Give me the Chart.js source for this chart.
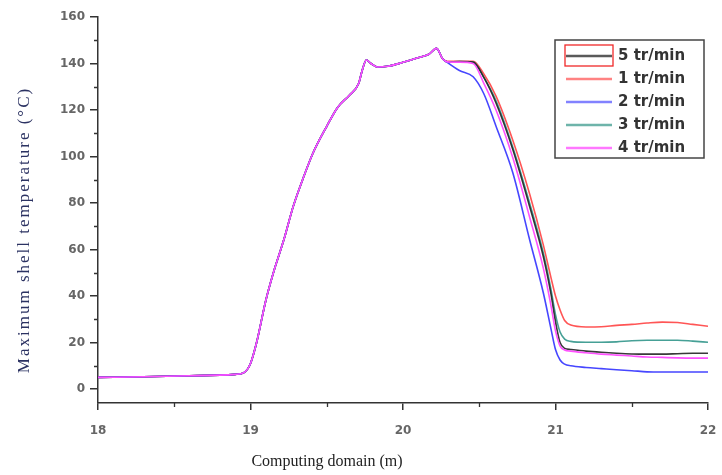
<!DOCTYPE html>
<html>
<head>
<meta charset="utf-8">
<script src="https://cdn.jsdelivr.net/npm/chart.js@4/dist/chart.umd.min.js"></script>
<style>
  html, body { margin: 0; padding: 0; background: #fff; }
</style>
</head>
<body>
<canvas id="shellChart" width="722" height="475"></canvas>
<script>
// shared heating part (all speeds overlap here)
const xRise = [18, 18.3, 18.6, 18.9, 18.96, 19.0, 19.04, 19.1, 19.15, 19.22, 19.28, 19.35, 19.41, 19.5, 19.57, 19.65, 19.71, 19.73, 19.76, 19.79, 19.83, 19.9, 20.0, 20.1, 20.17, 20.22, 20.26];
const yRise = [5.0, 5.3, 5.7, 6.3, 7.2, 11, 20, 38, 50, 64.5, 78.5, 91.5, 101.5, 113, 121, 126.5, 131.5, 136.5, 141.5, 140, 138.5, 138.8, 140.5, 142.5, 144, 146.5, 142];

// cooling part, one list per rotation speed
const xFall = [20.29, 20.37, 20.46, 20.53, 20.61, 20.72, 20.83, 20.92, 20.97, 21.0, 21.03, 21.06, 21.1, 21.2, 21.3, 21.4, 21.5, 21.6, 21.7, 21.8, 21.9, 22.0];
const fall5 = [140.7, 140.8, 140.6, 134, 123, 103, 78.6, 57, 41, 29, 20, 17.5, 17, 16.3, 15.8, 15.4, 15.1, 15, 15, 15.2, 15.4, 15.4];
const fall1 = [141, 141, 141, 135.5, 126, 107, 84, 62, 48, 40, 34, 29.5, 27.5, 26.7, 26.8, 27.4, 27.8, 28.4, 28.8, 28.6, 27.8, 27];
const fall2 = [140.5, 137, 134.3, 127, 113, 93, 64.3, 41.4, 26, 17, 12.5, 10.7, 10, 9.3, 8.8, 8.3, 7.9, 7.4, 7.3, 7.3, 7.3, 7.3];
const fall3 = [140.7, 140.8, 140.6, 134, 124, 104, 80, 58.5, 43, 32, 24.5, 21.5, 20.5, 20.1, 20.1, 20.3, 20.8, 21, 21, 21, 20.6, 20.1];
const fall4 = [140.7, 140.6, 140, 131.5, 120, 99.5, 74, 52, 36, 25, 18.5, 16.8, 16.3, 15.6, 15, 14.6, 14.2, 13.8, 13.6, 13.4, 13.3, 13.3];

const seriesNames = ["5 tr/min", "1 tr/min", "2 tr/min", "3 tr/min", "4 tr/min"];
const xTicks = [18, 19, 20, 21, 22];
const xMinor = [18.5, 19.5, 20.5, 21.5];
const yTicks = [0, 20, 40, 60, 80, 100, 120, 140, 160];
const yMinor = [10, 30, 50, 70, 90, 110, 130, 150];

const colors = ["rgba(35,35,35,0.9)", "rgb(255,85,85)", "rgb(70,70,255)", "rgb(70,160,150)", "rgb(255,80,255)"];
const legendColors = ["rgb(90,90,90)", "rgb(255,130,130)", "rgb(130,130,255)", "rgb(110,180,170)", "rgb(255,120,255)"];
const drawOrder = [2, 4, 1, 3, 0];

function points(fall) {
  const xs = xRise.concat(xFall);
  const ys = yRise.concat(fall);
  return xs.map((x, i) => ({ x: x, y: ys[i] }));
}

const falls = [fall5, fall1, fall2, fall3, fall4];

const extras = {
  id: "extras",
  afterDraw(chart) {
    const { ctx, chartArea: a, scales: { x, y } } = chart;
    ctx.save();
    // minor ticks
    ctx.strokeStyle = "#333";
    ctx.lineWidth = 1.3;
    ctx.beginPath();
    yMinor.forEach(v => {
      const py = Math.round(y.getPixelForValue(v)) + 0.5;
      ctx.moveTo(a.left - 4, py);
      ctx.lineTo(a.left, py);
    });
    xMinor.forEach(v => {
      const px = Math.round(x.getPixelForValue(v)) + 0.5;
      ctx.moveTo(px, a.bottom);
      ctx.lineTo(px, a.bottom + 4);
    });
    ctx.stroke();

    // axis titles
    ctx.fillStyle = "#222";
    ctx.font = '16px "Liberation Serif"';
    ctx.textAlign = "center";
    ctx.textBaseline = "middle";
    ctx.fillText("Computing domain (m)", 327, 462);

    ctx.save();
    ctx.translate(25, 230);
    ctx.rotate(-Math.PI / 2);
    ctx.fillStyle = "#2b3262";
    ctx.font = '17px "Liberation Serif"';
    ctx.letterSpacing = "2px";
    ctx.fillText("Maximum shell temperature (°C)", 0, 0);
    ctx.restore();

    // legend box
    const bx = 555, by = 40, bw = 149, bh = 118;
    ctx.fillStyle = "#fff";
    ctx.fillRect(bx, by, bw, bh);
    ctx.strokeStyle = "#444";
    ctx.lineWidth = 1.5;
    ctx.strokeRect(bx, by, bw, bh);
    ctx.font = 'bold 15px "DejaVu Sans"';
    ctx.textAlign = "left";
    seriesNames.forEach((name, i) => {
      const ry = 56 + i * 23;
      ctx.strokeStyle = legendColors[i];
      ctx.lineWidth = 2.5;
      ctx.beginPath();
      ctx.moveTo(566, ry);
      ctx.lineTo(612, ry);
      ctx.stroke();
      ctx.fillStyle = "#333";
      ctx.fillText(name, 618, ry);
    });
    ctx.strokeStyle = "rgb(240,40,40)";
    ctx.lineWidth = 1.3;
    ctx.strokeRect(565, 45, 48, 21);
    ctx.restore();
  }
};

new Chart(document.getElementById("shellChart"), {
  type: "line",
  data: {
    datasets: seriesNames.map((name, i) => ({
      label: name,
      data: points(falls[i]),
      borderColor: colors[i],
      borderWidth: 1.6,
      pointRadius: 0,
      fill: false,
      cubicInterpolationMode: "monotone",
      order: drawOrder[i]
    }))
  },
  options: {
    responsive: false,
    animation: false,
    devicePixelRatio: 1,
    layout: { padding: { top: 17, right: 14, left: 0, bottom: 0 } },
    plugins: { legend: { display: false }, tooltip: { enabled: false } },
    scales: {
      x: {
        type: "linear",
        min: 18,
        max: 22,
        afterBuildTicks: s => { s.ticks = xTicks.map(v => ({ value: v })); },
        afterFit: s => { s.height = 72; s.paddingLeft = 0; s.paddingRight = 0; },
        ticks: { color: "#666", font: { family: "DejaVu Sans", size: 12, weight: "bold" }, padding: 14 },
        grid: { drawOnChartArea: false, tickLength: 7, color: "#333", lineWidth: 1.5 },
        border: { color: "#333", width: 1.5 }
      },
      y: {
        min: -6,
        max: 160,
        afterBuildTicks: s => { s.ticks = yTicks.map(v => ({ value: v })); },
        afterFit: s => { s.width = 98; s.paddingTop = 0; s.paddingBottom = 0; },
        ticks: { color: "#666", font: { family: "DejaVu Sans", size: 12, weight: "bold" }, padding: 5 },
        grid: { drawOnChartArea: false, tickLength: 8, color: "#333", lineWidth: 1.5 },
        border: { color: "#333", width: 1.5 }
      }
    }
  },
  plugins: [extras]
});
</script>
</body>
</html>
